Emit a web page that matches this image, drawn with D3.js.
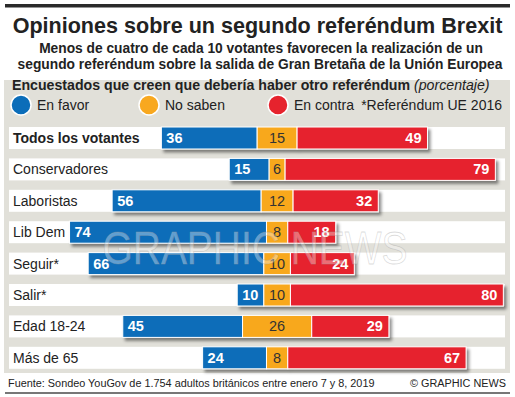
<!DOCTYPE html>
<html lang="es">
<head>
<meta charset="UTF-8">
<title>Opiniones sobre un segundo referéndum Brexit</title>
<script src="https://d3js.org/d3.v7.min.js"></script>
<style>
  body { margin: 0; background: #fff; }
  svg { display: block; font-family: "Liberation Sans", Arial, sans-serif; }
</style>
</head>
<body>
<svg width="515" height="397"></svg>
<script>
// datos
const categories = ["Todos los votantes", "Conservadores", "Laboristas", "Lib Dem", "Seguir*", "Salir*", "Edad 18-24", "Más de 65"];
const enFavor  = [36, 15, 56, 74, 66, 10, 45, 24];
const noSaben  = [15, 6, 12, 8, 10, 10, 26, 8];
const enContra = [49, 79, 32, 18, 24, 80, 29, 67];
const legendLabels = ["En favor", "No saben", "En contra"];

const colors = { favor: "#0b6db9", nosaben: "#f8a81f", contra: "#e6232d" };

const svg = d3.select("svg");
const W = 515;

// ajusta el tamaño de letra para que el texto ocupe el ancho dado
function fitText(sel, width) {
  const fs = +sel.attr("font-size");
  const len = sel.node().getComputedTextLength();
  sel.attr("font-size", (fs * width / len).toFixed(2));
  return sel;
}

// sombra de las barras
const defs = svg.append("defs");
defs.append("filter").attr("id", "shadow")
    .attr("x", "-5%").attr("y", "-30%").attr("width", "115%").attr("height", "190%")
    .append("feDropShadow")
    .attr("dx", 2.5).attr("dy", 3).attr("stdDeviation", 1.6)
    .attr("flood-color", "#000").attr("flood-opacity", 0.45);

// línea superior
svg.append("rect").attr("x", 5).attr("y", 4).attr("width", 505).attr("height", 3.5).attr("fill", "#2a2a2a");

// título
fitText(svg.append("text").attr("x", 257.5).attr("y", 33).attr("text-anchor", "middle")
    .attr("font-size", 25).attr("font-weight", "bold").attr("fill", "#222")
    .text("Opiniones sobre un segundo referéndum Brexit"), 490);

fitText(svg.append("text").attr("x", 261).attr("y", 53).attr("text-anchor", "middle")
    .attr("font-size", 15.5).attr("font-weight", "bold").attr("fill", "#222")
    .text("Menos de cuatro de cada 10 votantes favorecen la realización de un"), 444);
fitText(svg.append("text").attr("x", 260).attr("y", 69).attr("text-anchor", "middle")
    .attr("font-size", 15.5).attr("font-weight", "bold").attr("fill", "#222")
    .text("segundo referéndum sobre la salida de Gran Bretaña de la Unión Europea"), 485);

// panel gris
svg.append("rect").attr("x", 4).attr("y", 80).attr("width", 506).attr("height", 293).attr("fill", "#e1e0d9");

// encabezado de leyenda
const head = svg.append("text").attr("x", 12).attr("y", 89.5).attr("font-size", 14.5).attr("fill", "#222");
head.append("tspan").attr("font-weight", "bold").text("Encuestados que creen que debería haber otro referéndum ");
head.append("tspan").attr("font-style", "italic").text("(porcentaje)");
fitText(head, 478);

// leyenda
const legX = [21, 149, 278];
const legColors = [colors.favor, colors.nosaben, colors.contra];
legendLabels.forEach((lab, i) => {
  svg.append("circle").attr("cx", legX[i]).attr("cy", 105).attr("r", 10)
      .attr("fill", legColors[i]).attr("stroke", "#fff").attr("stroke-width", 1.5);
  svg.append("text").attr("x", legX[i] + 16).attr("y", 110).attr("font-size", 14).attr("fill", "#222").text(lab);
});
svg.append("text").attr("x", 502).attr("y", 110).attr("text-anchor", "end").attr("font-size", 14).attr("fill", "#222")
    .text("*Referéndum UE 2016");

// escalas
const x = d3.scaleLinear().domain([-100, 86]).range([11, 506]);
const y = d3.scaleBand().domain(categories).range([122.3, 373.5]).paddingInner(0.3).paddingOuter(0.15);

const rows = categories.map((c, i) => {
  const f = enFavor[i], n = noSaben[i], k = enContra[i];
  const n0 = -n / 2, n1 = n / 2;
  return { cat: c, i, f, n, k, f0: n0 - f, f1: n0, n0, n1, k0: n1, k1: n1 + k };
});

// franjas blancas
svg.append("g").selectAll("rect").data(rows).join("rect")
    .attr("x", 9).attr("width", 496)
    .attr("y", d => y(d.cat)).attr("height", y.bandwidth())
    .attr("fill", "#fff");

// etiquetas de categoría
svg.append("g").selectAll("text").data(rows).join("text")
    .attr("x", 13).attr("y", d => y(d.cat) + y.bandwidth() / 2 + 5)
    .attr("font-size", 14).attr("fill", "#222")
    .attr("font-weight", d => d.i === 0 ? "bold" : "normal")
    .text(d => d.cat);

// barras
const bars = svg.append("g").selectAll("g").data(rows).join("g").attr("filter", "url(#shadow)");
bars.append("rect").attr("x", d => x(d.f0)).attr("width", d => x(d.f1) - x(d.f0))
    .attr("y", d => y(d.cat)).attr("height", y.bandwidth()).attr("fill", colors.favor)
    .attr("stroke", "#fff").attr("stroke-width", 1);
bars.append("rect").attr("x", d => x(d.n0)).attr("width", d => x(d.n1) - x(d.n0))
    .attr("y", d => y(d.cat)).attr("height", y.bandwidth()).attr("fill", colors.nosaben)
    .attr("stroke", "#fff").attr("stroke-width", 1);
bars.append("rect").attr("x", d => x(d.k0)).attr("width", d => x(d.k1) - x(d.k0))
    .attr("y", d => y(d.cat)).attr("height", y.bandwidth()).attr("fill", colors.contra)
    .attr("stroke", "#fff").attr("stroke-width", 1);

// valores
const vals = svg.append("g").attr("font-size", 14.5);
vals.selectAll("text.f").data(rows).join("text").attr("class", "f")
    .attr("x", d => x(d.f0) + 5).attr("y", d => y(d.cat) + y.bandwidth() / 2 + 5)
    .attr("fill", "#fff").attr("font-weight", "bold").text(d => d.f);
vals.selectAll("text.n").data(rows).join("text").attr("class", "n")
    .attr("x", d => x(0)).attr("y", d => y(d.cat) + y.bandwidth() / 2 + 5)
    .attr("text-anchor", "middle").attr("fill", "#333").text(d => d.n);
vals.selectAll("text.k").data(rows).join("text").attr("class", "k")
    .attr("x", d => x(d.k1) - 6).attr("y", d => y(d.cat) + y.bandwidth() / 2 + 5)
    .attr("text-anchor", "end").attr("fill", "#fff").attr("font-weight", "bold").text(d => d.k);

// marca de agua
svg.append("text").attr("x", 255).attr("y", 264).attr("text-anchor", "middle")
    .attr("font-size", 46).attr("fill", "#fff").attr("fill-opacity", 0.35)
    .attr("stroke", "#999").attr("stroke-opacity", 0.35).attr("stroke-width", 0.8)
    .attr("textLength", 305).attr("lengthAdjust", "spacingAndGlyphs")
    .text("GRAPHIC NEWS");

// pie
fitText(svg.append("text").attr("x", 8).attr("y", 387).attr("font-size", 12.5).attr("fill", "#222")
    .text("Fuente: Sondeo YouGov de 1.754 adultos británicos entre enero 7 y 8, 2019"), 367);
fitText(svg.append("text").attr("x", 506).attr("y", 387).attr("text-anchor", "end").attr("font-size", 12.5).attr("fill", "#222")
    .text("© GRAPHIC NEWS"), 96);
svg.append("rect").attr("x", 5).attr("y", 392).attr("width", 505).attr("height", 2).attr("fill", "#777");
</script>
</body>
</html>
